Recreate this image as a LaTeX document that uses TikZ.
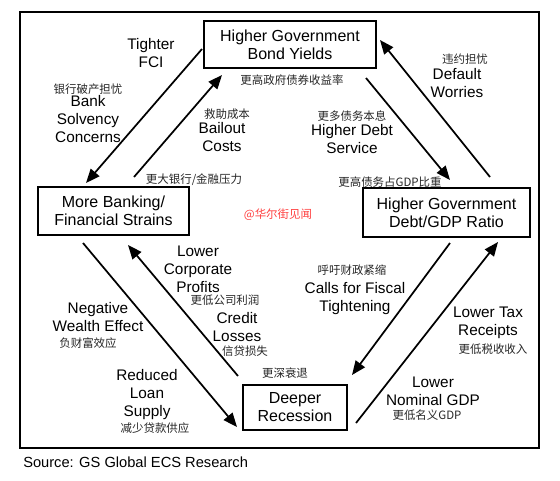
\documentclass[tikz,border=0pt]{standalone}
\usepackage{fontspec}
\setmainfont{Liberation Sans}
\newfontfamily\cjk{Noto Sans CJK SC}
\usetikzlibrary{arrows.meta}

\begin{document}
\begin{tikzpicture}[
    x=0.75pt,
    y=-0.75pt,
    >=Triangle,
    line join=miter,
    box/.style={draw=black, line width=1.4pt, align=center, inner sep=0pt, font=\fontsize{12}{13.5}\selectfont},
    link/.style={draw=black, line width=1.3pt, -{Triangle[length=10.5pt,width=8.5pt]}},
    en/.style={align=center, inner sep=0pt, font=\fontsize{11.5}{13.5}\selectfont},
    zh/.style={inner sep=0pt, text=black!85, font=\cjk\fontsize{8.6}{10}\selectfont},
  ]

  % Page and outer frame
  \path[use as bounding box] (0,0) rectangle (560,480);
  \draw[line width=1.3pt] (20,12) rectangle (539,448);

  % The four stages of the loop
  \node[box, minimum width=129pt, minimum height=35.25pt] (bond) at (290,44.5) {Higher Government\\Bond Yields};
  \node[box, minimum width=113.25pt, minimum height=36pt] (bank) at (113.5,211) {More Banking/\\Financial Strains};
  \node[box, minimum width=125.25pt, minimum height=36.75pt] (ratio) at (446.5,212.5) {Higher Government\\Debt/GDP Ratio};
  \node[box, minimum width=78pt, minimum height=33.75pt] (recess) at (295,407.5) {Deeper\\Recession};

  % Arrow end points
  \coordinate (fciA) at (202,49);      \coordinate (fciB) at (86,183);
  \coordinate (bailA) at (134,177);    \coordinate (bailB) at (222,75);
  \coordinate (svcA) at (366,78);      \coordinate (svcB) at (450,180);
  \coordinate (dfltA) at (490,177);    \coordinate (dfltB) at (380,40);
  \coordinate (taxA) at (356,423);     \coordinate (taxB) at (498,242);
  \coordinate (fiscA) at (450,243);    \coordinate (fiscB) at (352,375);
  \coordinate (credA) at (238,376);    \coordinate (credB) at (128,245);
  \coordinate (wlthA) at (83,243);     \coordinate (wlthB) at (237,427);

  \foreach \a/\b in {fciA/fciB, bailA/bailB, svcA/svcB, dfltA/dfltB, taxA/taxB, fiscA/fiscB, credA/credB, wlthA/wlthB}
    \draw[link] (\a) -- (\b);

  % English labels
  \node[en] (fci) at (151,53) {Tighter\\FCI};
  \node[en] (solv) at (88,119) {Bank\\Solvency\\Concerns};
  \node[en] (bail) at (222,137.5) {Bailout\\Costs};
  \node[en] (dflt) at (457,83.5) {Default\\Worries};
  \node[en] (svc) at (352,139) {Higher Debt\\Service};
  \node[en] (prof) at (198,269) {Lower\\Corporate\\Profits};
  \node[en] (cred) at (237,327) {Credit\\Losses};
  \node[en] (wlth) at (98,317) {Negative\\Wealth Effect};
  \node[en] (loan) at (147,395) {Reduced\\Loan\\Supply};
  \node[en] (fisc) at (355,298.5) {Calls for Fiscal\\Tightening};
  \node[en] (tax) at (488,323) {Lower Tax\\Receipts};
  \node[en] (gdp) at (433,391) {Lower\\Nominal GDP};

  % Chinese labels
  \node[zh] (bondZh) at (292,80) {更高政府债券收益率};
  \node[zh] (solvZh) at (88,89) {银行破产担忧};
  \node[zh] (bailZh) at (227,114) {救助成本};
  \node[zh] (bankZh) at (194,180) {更大银行/金融压力};
  \node[zh] (dfltZh) at (465,59) {违约担忧};
  \node[zh] (svcZh) at (352,116) {更多债务本息};
  \node[zh] (ratioZh) at (390,182) {更高债务占GDP比重};
  \node[zh, text=red!75] (mark) at (278,215) {@华尔街见闻};
  \node[zh] (profZh) at (225,300) {更低公司利润};
  \node[zh] (credZh) at (245,351) {信贷损失};
  \node[zh] (wlthZh) at (88,343) {负财富效应};
  \node[zh] (loanZh) at (155,428) {减少贷款供应};
  \node[zh] (recessZh) at (285,373) {更深衰退};
  \node[zh] (fiscZh) at (352,270) {呼吁财政紧缩};
  \node[zh] (taxZh) at (493,349) {更低税收收入};
  \node[zh] (gdpZh) at (427,415) {更低名义GDP};

  % Source line
  \node[anchor=west, inner sep=0pt, font=\fontsize{11}{13}\selectfont] (src) at (23,462) {Source: GS Global ECS Research};
\end{tikzpicture}
\end{document}
